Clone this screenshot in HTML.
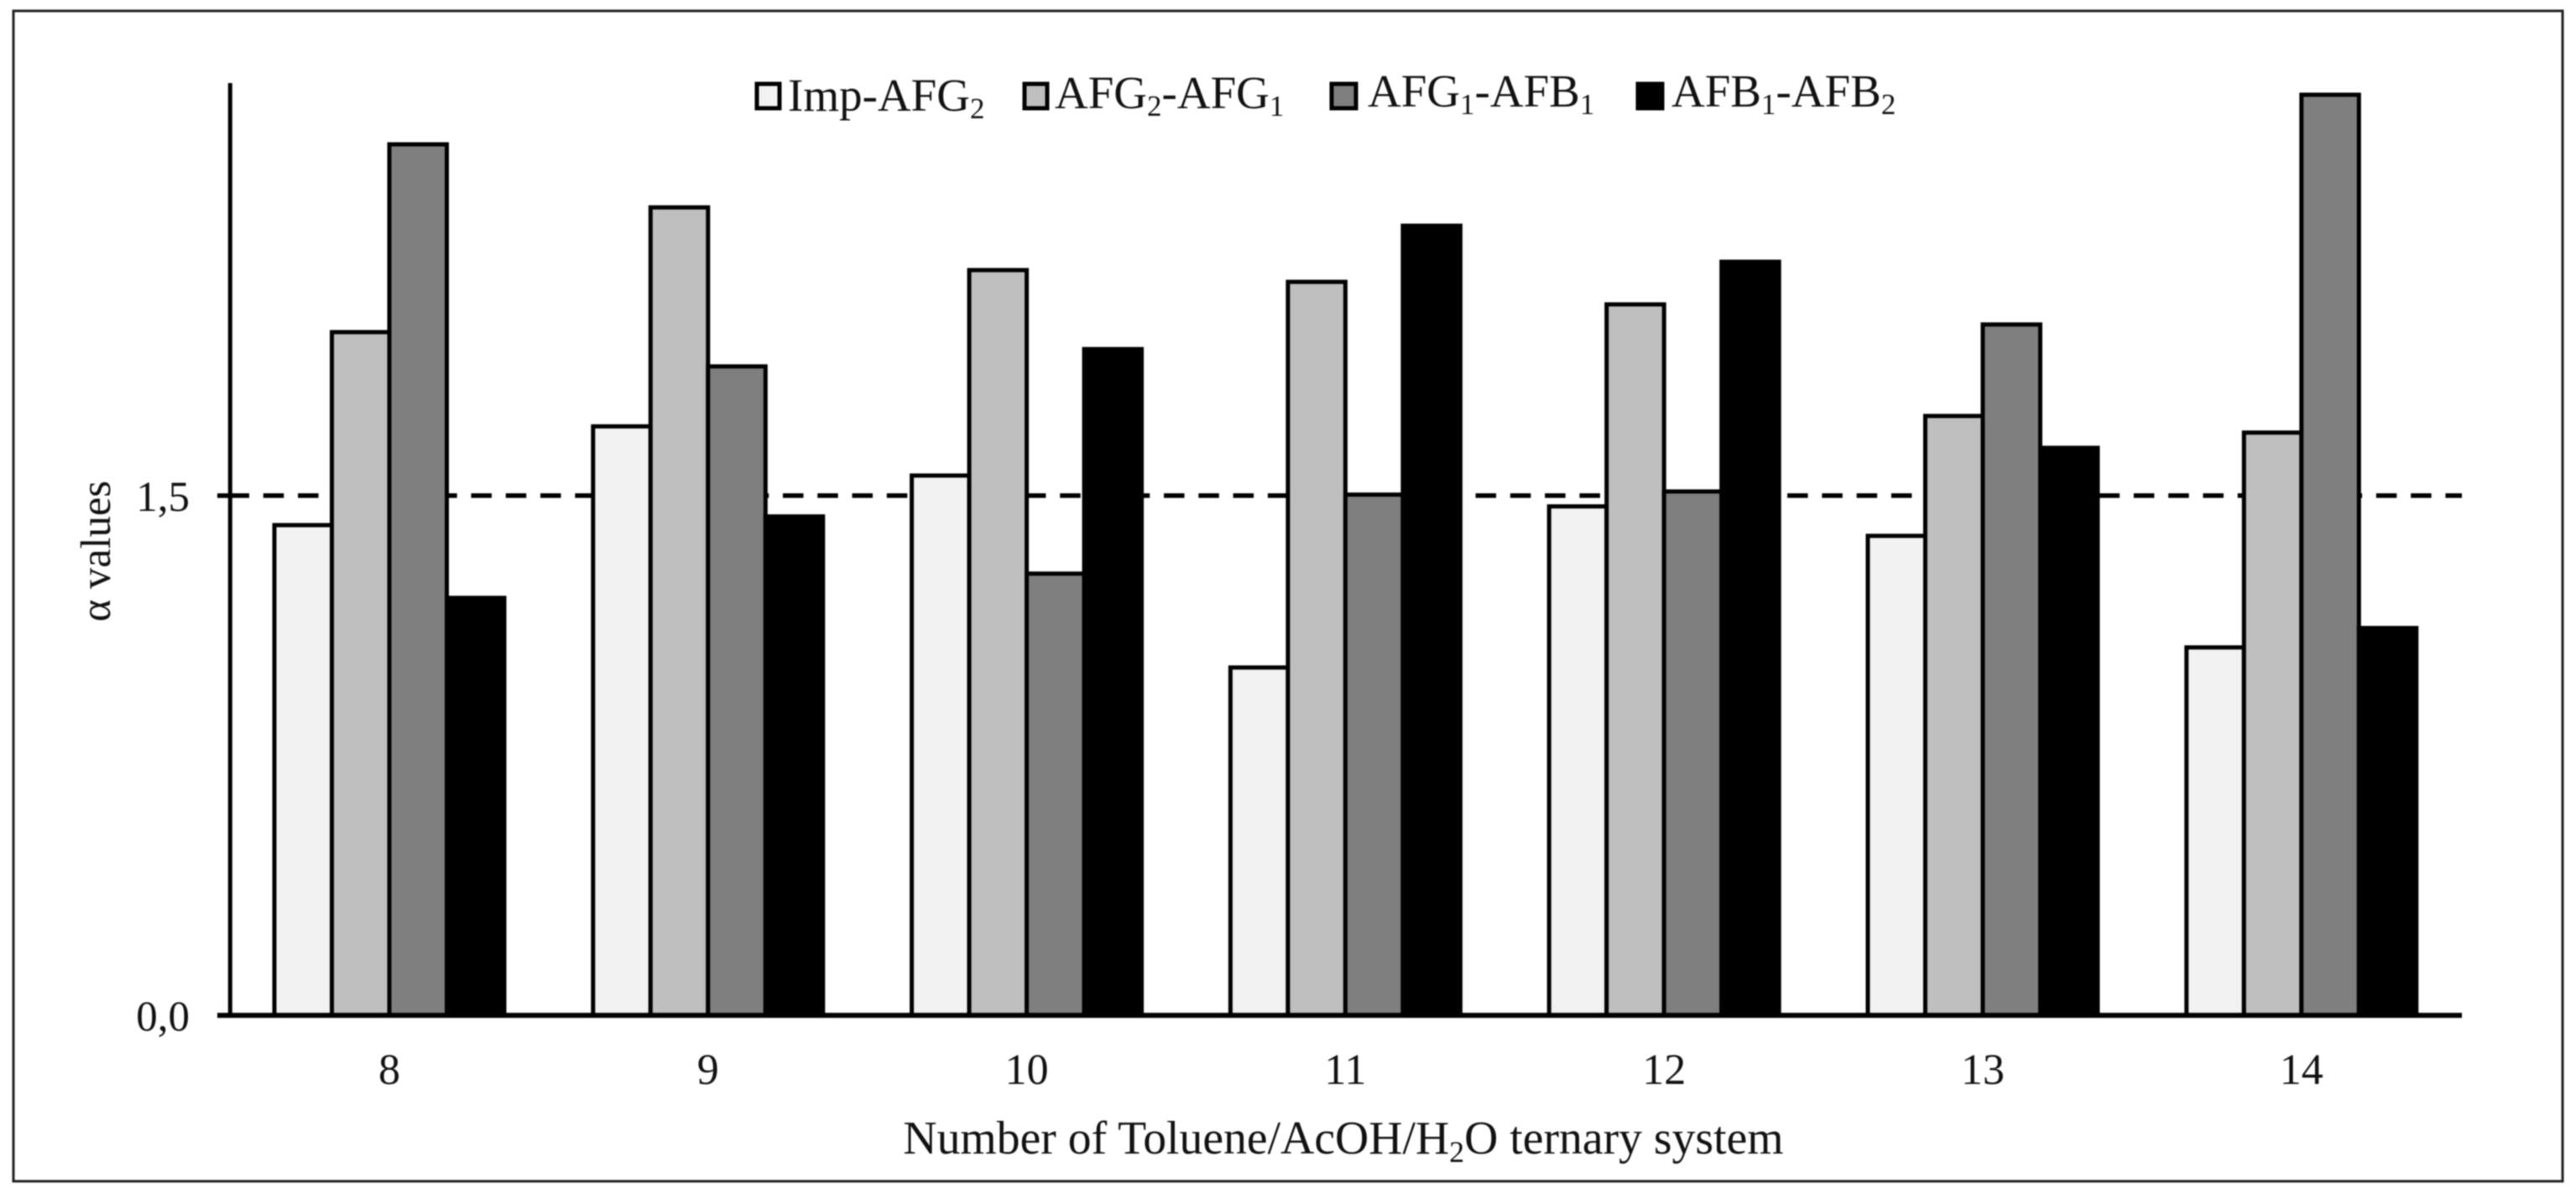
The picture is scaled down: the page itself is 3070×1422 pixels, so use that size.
<!DOCTYPE html>
<html>
<head>
<meta charset="utf-8">
<style>
html,body{margin:0;padding:0;background:#fff;width:3070px;height:1422px;overflow:hidden}
svg{display:block;filter:blur(0.9px)}
text{font-family:"Liberation Serif",serif;fill:#111}
</style>
</head>
<body>
<svg id="chart" xmlns="http://www.w3.org/2000/svg" width="3070" height="1422" viewBox="0 0 3070 1422">
<rect x="0" y="0" width="3070" height="1422" fill="#fff"/>
<rect x="16" y="13" width="3038" height="1395" fill="none" stroke="#222" stroke-width="3"/>
<g id="threshold"></g>
<g id="bars"></g>
<g id="axes"></g>
<g id="xlabels"></g>
<g id="ylabels"></g>
<text transform="translate(131,657) rotate(-90)" text-anchor="middle" font-size="50.5">α values</text>
<text x="1601" y="1375" text-anchor="middle" font-size="55.7">Number of Toluene/AcOH/H<tspan font-size="36" dy="10">2</tspan><tspan dy="-10">O ternary system</tspan></text>
<g>
<g>
<rect x="902" y="100" width="27" height="29" fill="#f2f2f2" stroke="#000" stroke-width="5"/>
<text x="939" y="132" font-size="55">Imp-AFG<tspan font-size="35" dy="9">2</tspan></text>
</g>
<g>
<rect x="1221" y="100" width="27" height="29" fill="#bfbfbf" stroke="#000" stroke-width="5"/>
<text x="1257" y="129" font-size="55">AFG<tspan font-size="35" dy="9">2</tspan><tspan dy="-9">-AFG</tspan><tspan font-size="35" dy="9">1</tspan></text>
</g>
<g>
<rect x="1587" y="100" width="29" height="29" fill="#7f7f7f" stroke="#000" stroke-width="5"/>
<text x="1630" y="127" font-size="55">AFG<tspan font-size="35" dy="9">1</tspan><tspan dy="-9">-AFB</tspan><tspan font-size="35" dy="9">1</tspan></text>
</g>
<g>
<rect x="1952" y="100" width="29" height="29" fill="#000" stroke="#000" stroke-width="5"/>
<text x="1992" y="127" font-size="55">AFB<tspan font-size="35" dy="9">1</tspan><tspan dy="-9">-AFB</tspan><tspan font-size="35" dy="9">2</tspan></text>
</g>
</g>
</svg>
<script>
var categories = ["8", "9", "10", "11", "12", "13", "14"];
var impAfg2 = [1.415, 1.70, 1.558, 1.004, 1.469, 1.384, 1.062];
var afg2Afg1 = [1.972, 2.332, 2.151, 2.117, 2.052, 1.73, 1.682];
var afg1Afb1 = [2.514, 1.873, 1.275, 1.503, 1.512, 1.994, 2.657];
var afb1Afb2 = [1.205, 1.44, 1.923, 2.279, 2.175, 1.638, 1.118];
var yTickValues = [0, 1.5];
var yTickLabels = ["0,0", "1,5"];
var thresholdValue = 1.5;

var NS = "http://www.w3.org/2000/svg";
var seriesValues = [impAfg2, afg2Afg1, afg1Afb1, afb1Afb2];
var seriesFills = ["#f2f2f2", "#bfbfbf", "#7f7f7f", "#000000"];
var seriesKeys = ["imp-afg2", "afg2-afg1", "afg1-afb1", "afb1-afb2"];

function yScale(v) { return 1210.3 - v * 413; }
function xCenter(i) { return 464 + i * 379.8; }
function xBar(i, j) { return xCenter(i) - 137 + j * 68.5; }

var barsGroup = document.getElementById("bars");
var axesGroup = document.getElementById("axes");
var xLabelGroup = document.getElementById("xlabels");
var yLabelGroup = document.getElementById("ylabels");
var thresholdGroup = document.getElementById("threshold");

var dash = document.createElementNS(NS, "line");


dash.setAttribute("x1", 272.5);
dash.setAttribute("x2", 2934);
dash.setAttribute("y1", yScale(thresholdValue));
dash.setAttribute("y2", yScale(thresholdValue));
dash.setAttribute("stroke", "#000");
dash.setAttribute("stroke-width", 5.5);
dash.setAttribute("stroke-dasharray", "24.5 16.78");
thresholdGroup.appendChild(dash);

seriesValues.forEach(function (vals, j) {
  vals.forEach(function (v, i) {
    var r = document.createElementNS(NS, "rect");
    
    
    r.setAttribute("x", xBar(i, j));
    r.setAttribute("y", yScale(v));
    r.setAttribute("width", 68.5);
    r.setAttribute("height", yScale(0) - yScale(v));
    r.setAttribute("fill", seriesFills[j]);
    r.setAttribute("stroke", "#000");
    r.setAttribute("stroke-width", 5);
    barsGroup.appendChild(r);
  });
});

var yAxis = document.createElementNS(NS, "line");


yAxis.setAttribute("x1", 274.3);
yAxis.setAttribute("x2", 274.3);
yAxis.setAttribute("y1", 99);
yAxis.setAttribute("y2", yScale(0));
yAxis.setAttribute("stroke", "#000");
yAxis.setAttribute("stroke-width", 5);
axesGroup.appendChild(yAxis);

var xAxis = document.createElementNS(NS, "line");


xAxis.setAttribute("x1", 259);
xAxis.setAttribute("x2", 2934);
xAxis.setAttribute("y1", yScale(0));
xAxis.setAttribute("y2", yScale(0));
xAxis.setAttribute("stroke", "#000");
xAxis.setAttribute("stroke-width", 6);
axesGroup.appendChild(xAxis);

yTickValues.forEach(function (v, k) {
  var t = document.createElementNS(NS, "line");
  
  
  t.setAttribute("x1", 259);
  t.setAttribute("x2", 274);
  t.setAttribute("y1", yScale(v));
  t.setAttribute("y2", yScale(v));
  t.setAttribute("stroke", "#000");
  t.setAttribute("stroke-width", 5.5);
  axesGroup.appendChild(t);

  var l = document.createElementNS(NS, "text");
  
  
  l.setAttribute("x", 226);
  l.setAttribute("y", yScale(v) + 18);
  l.setAttribute("text-anchor", "end");
  l.setAttribute("font-size", 51);
  l.textContent = yTickLabels[k];
  yLabelGroup.appendChild(l);
});

categories.forEach(function (c, i) {
  var l = document.createElementNS(NS, "text");
  
  
  l.setAttribute("x", xCenter(i));
  l.setAttribute("y", 1292);
  l.setAttribute("text-anchor", "middle");
  l.setAttribute("font-size", 52);
  l.textContent = c;
  xLabelGroup.appendChild(l);
});
</script>
</body>
</html>
